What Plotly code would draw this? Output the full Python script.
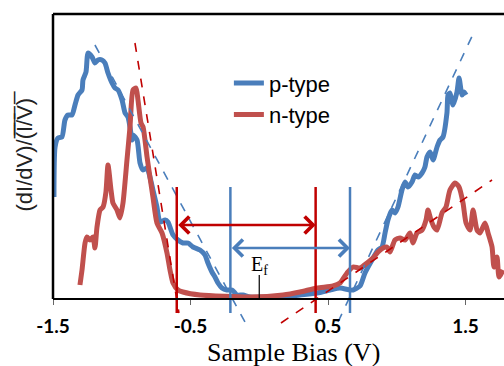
import plotly.graph_objects as go

# ---- data (sample bias in V, normalized conductance in arbitrary units) ----
p_x = [-1.493, -1.485, -1.464, -1.435, -1.413, -1.391, -1.362, -1.340, -1.318, -1.289,
       -1.282, -1.260, -1.245, -1.216, -1.195, -1.173, -1.144, -1.122, -1.100, -1.071,
       -1.049, -1.027, -0.998, -0.976, -0.955, -0.940, -0.925, -0.918, -0.889, -0.867,
       -0.845, -0.816, -0.795, -0.773, -0.744, -0.722, -0.685, -0.664, -0.627, -0.591,
       -0.555, -0.518, -0.482, -0.431, -0.395, -0.373, -0.344, -0.322, -0.300, -0.271,
       -0.235, -0.198, -0.162, -0.118, -0.067, 0.173, 0.296, 0.420, 0.515, 0.587,
       0.660, 0.682, 0.733, 0.769, 0.820, 0.864, 0.893, 0.915, 0.936, 0.965,
       0.987, 1.009, 1.038, 1.060, 1.082, 1.111, 1.133, 1.155, 1.184, 1.205,
       1.220, 1.242, 1.264, 1.293, 1.315, 1.336, 1.365, 1.373, 1.387, 1.409,
       1.438, 1.453, 1.475, 1.489, 1.504]
p_y = [102, 152, 161, 162, 179, 184, 184, 194, 204, 209,
       219, 227, 246, 242, 236, 239, 239, 236, 226, 216,
       211, 209, 199, 186, 182, 172, 159, 164, 159, 136,
       129, 131, 122, 109, 92, 77, 79, 77, 64, 59,
       56, 56, 52, 49, 44, 36, 27, 22, 16, 11,
       9, 9, 4, 4, 2, 2, 4, 6, 9, 11,
       9, 9, 13, 26, 39, 49, 52, 66, 79, 89,
       86, 92, 109, 117, 112, 117, 124, 122, 126, 132,
       142, 147, 139, 152, 159, 162, 186, 204, 206, 194,
       207, 221, 204, 207, 204]

n_x = [-1.304, -1.289, -1.267, -1.253, -1.231, -1.209, -1.195, -1.180, -1.158, -1.136,
       -1.115, -1.100, -1.078, -1.064, -1.035, -1.013, -0.991, -0.962, -0.940, -0.918,
       -0.896, -0.882, -0.860, -0.845, -0.816, -0.795, -0.773, -0.744, -0.707, -0.671,
       -0.649, -0.627, -0.591, -0.555, -0.431, -0.067, 0.173, 0.296, 0.420, 0.536,
       0.587, 0.638, 0.682, 0.733, 0.784, 0.827, 0.864, 0.900, 0.929, 0.951,
       0.987, 1.024, 1.060, 1.096, 1.118, 1.147, 1.184, 1.213, 1.227, 1.249,
       1.271, 1.293, 1.329, 1.358, 1.387, 1.424, 1.453, 1.482, 1.504, 1.533,
       1.555, 1.584, 1.605, 1.642, 1.664, 1.693, 1.707, 1.729, 1.744, 1.773]
n_y = [14, 29, 56, 62, 59, 62, 51, 72, 89, 92,
       107, 134, 109, 96, 89, 81, 96, 139, 172, 209,
       211, 199, 176, 172, 142, 122, 102, 76, 66, 46,
       29, 16, 9, 7, 4, 2, 4, 7, 11, 13,
       16, 26, 32, 31, 36, 41, 47, 51, 52, 47,
       59, 61, 59, 66, 56, 66, 69, 79, 89, 79,
       72, 69, 86, 92, 109, 116, 112, 96, 76, 69,
       89, 69, 66, 76, 66, 52, 32, 42, 22, 29]

# linear fits (dashed) : [x_start, x_end], [y_start, y_end]
p_fit_left_x, p_fit_left_y = [-1.195, -0.104], [254, -23]
p_fit_right_x, p_fit_right_y = [0.573, 1.555], [-23, 265]
n_fit_left_x, n_fit_left_y = [-0.904, -0.584], [256, -14]
n_fit_right_x, n_fit_right_y = [0.158, 1.693], [-24, 119]

# band edges
n_edges = [-0.60, 0.41]
p_edges = [-0.21, 0.66]
edge_top, edge_bottom = 112, -14
n_arrow_y = 74
p_arrow_y = 51
ef_x = 0.0
ef_line_y = [0, 24]
ef_label_y = 34

tick_vals = [-1.5, -0.5, 0.5, 1.5]
tick_text = ["-1.5", "-0.5", "0.5", "1.5"]

BLUE = "#4A7EBB"
RED_CURVE = "#C0504D"
RED = "#C00000"

fig = go.Figure()
fig.add_trace(go.Scatter(x=p_x, y=p_y, mode="lines", name="p-type",
                         line=dict(color=BLUE, width=5, shape="spline", smoothing=0.6)))
fig.add_trace(go.Scatter(x=n_x, y=n_y, mode="lines", name="n-type",
                         line=dict(color=RED_CURVE, width=5, shape="spline", smoothing=0.6)))

for fx, fy, c in [(p_fit_left_x, p_fit_left_y, BLUE), (p_fit_right_x, p_fit_right_y, BLUE),
                  (n_fit_left_x, n_fit_left_y, RED), (n_fit_right_x, n_fit_right_y, RED)]:
    fig.add_trace(go.Scatter(x=fx, y=fy, mode="lines", showlegend=False, hoverinfo="skip",
                             line=dict(color=c, width=1.6, dash="dash")))

for edges, c in [(n_edges, RED), (p_edges, BLUE)]:
    for e in edges:
        fig.add_trace(go.Scatter(x=[e, e], y=[edge_top, edge_bottom], mode="lines",
                                 showlegend=False, hoverinfo="skip",
                                 line=dict(color=c, width=2.5)))

fig.add_trace(go.Scatter(x=[ef_x, ef_x], y=ef_line_y, mode="lines", showlegend=False,
                         hoverinfo="skip", line=dict(color="black", width=1.2)))

# double arrows
for edges, ay, c in [(n_edges, n_arrow_y, RED), (p_edges, p_arrow_y, BLUE)]:
    fig.add_annotation(x=edges[1], y=ay, ax=edges[0], ay=ay, xref="x", yref="y",
                       axref="x", ayref="y", text="", showarrow=True,
                       arrowhead=4, startarrowhead=4, arrowside="end+start",
                       arrowsize=1.3, startarrowsize=1.3, arrowwidth=2.5, arrowcolor=c,
                       standoff=0, startstandoff=0)

fig.add_annotation(x=ef_x, y=ef_label_y, xref="x", yref="y", text="E<sub>f</sub>",
                   showarrow=False, font=dict(family="Liberation Serif", size=20, color="black"))

# axis titles
fig.add_annotation(x=0.534, y=-0.087, xref="paper", yref="paper", text="Sample Bias (V)",
                   showarrow=False, yanchor="middle",
                   font=dict(family="Liberation Serif", size=26, color="black"))
overlined = "".join(ch + "\u0305" for ch in "(I/V)")
fig.add_annotation(x=-0.095, y=0.56, xref="paper", yref="paper", textangle=-90,
                   text="(dI/dV)/" + overlined,
                   showarrow=False, font=dict(family="Liberation Sans", size=22, color="#222"))

axis_pos = 26 / 311
# frame (top and left)
fig.add_shape(type="line", xref="paper", yref="paper", x0=0, x1=1, y0=1, y1=1,
              line=dict(color="black", width=2.5))
fig.add_shape(type="line", xref="paper", yref="paper", x0=0, x1=0, y0=axis_pos, y1=1,
              line=dict(color="black", width=2.5))

fig.update_layout(
    width=504, height=366,
    margin=dict(l=53, r=0, t=14, b=41),
    paper_bgcolor="white", plot_bgcolor="white",
    xaxis=dict(range=[-1.5, 1.78], anchor="free", position=axis_pos,
               showline=True, linecolor="black", linewidth=2,
               ticks="outside", ticklen=5, tickwidth=1, tickcolor="#666",
               tickvals=tick_vals, ticktext=tick_text, showgrid=False, zeroline=False,
               ticklabelstandoff=5,
               tickfont=dict(family="Lato", size=19, color="black", weight="bold")),
    yaxis=dict(range=[-26, 285], showline=False, showticklabels=False, ticks="",
               showgrid=False, zeroline=False),
    legend=dict(x=0.39, y=0.845, xanchor="left", yanchor="top", bgcolor="rgba(0,0,0,0)",
                font=dict(family="Liberation Sans", size=22, color="black"),
                itemwidth=30),
    showlegend=True,
)

fig.write_html("out.html")
